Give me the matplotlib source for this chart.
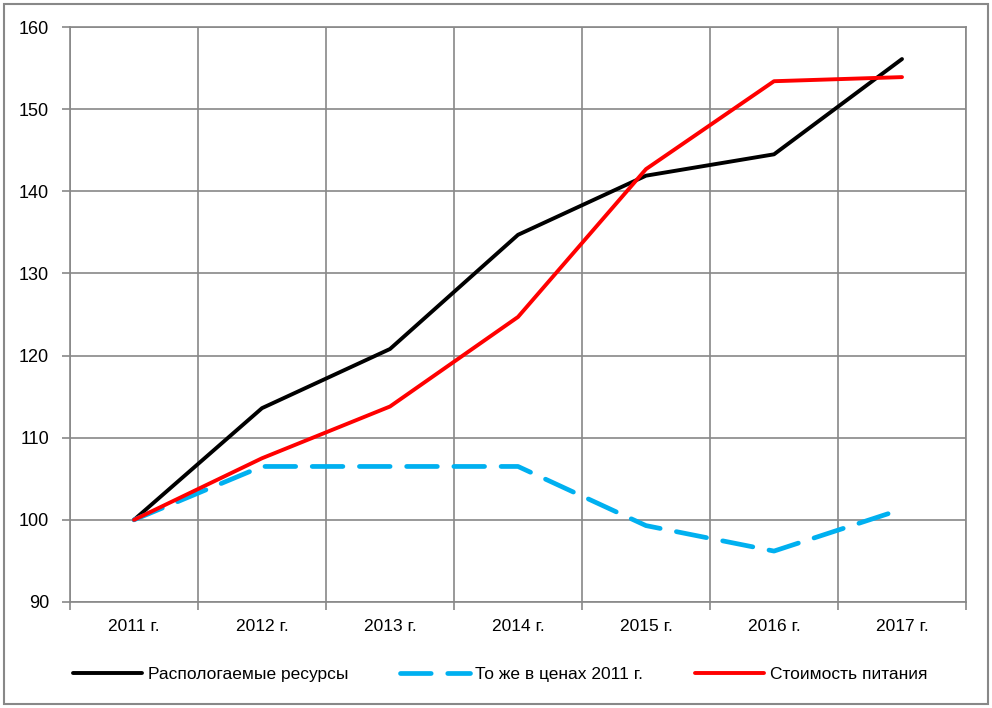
import matplotlib
matplotlib.use("Agg")
import matplotlib.pyplot as plt
import numpy as np
from matplotlib.patches import Rectangle

plt.rcParams['font.family'] = ['Liberation Sans', 'DejaVu Sans']

years = ["2011 г.", "2012 г.", "2013 г.", "2014 г.", "2015 г.", "2016 г.", "2017 г."]
resources = [100, 113.6, 120.8, 134.7, 141.9, 144.5, 156.1]
resources_2011 = [100, 106.5, 106.5, 106.5, 99.3, 96.2, 101.3]
food_cost = [100, 107.5, 113.8, 124.7, 142.7, 153.4, 153.9]
labels = ["Распологаемые ресурсы", "То же в ценах 2011 г.", "Стоимость питания"]
yticks = [90, 100, 110, 120, 130, 140, 150, 160]

fig = plt.figure(figsize=(9.92, 7.08), dpi=100)
ax = fig.add_axes([70/992, 1-602/708, (966-70)/992, (602-27)/708])
x = np.arange(len(years))

ax.plot(x, resources, color='black', lw=2.8, label=labels[0], solid_capstyle='round')
ax.plot(x, resources_2011, color='#00B0F0', lw=3.4, dashes=(6.5, 3.5), label=labels[1], dash_capstyle='round')
ax.plot(x, food_cost, color='#FF0000', lw=2.8, label=labels[2], solid_capstyle='round')

ax.set_xlim(-0.5, len(years)-0.5)
ax.set_ylim(90, 160)
ax.set_yticks(yticks)
ax.set_xticks(x)
ax.set_xticklabels(years)
ax.set_xticks(np.arange(-0.5, len(years)), minor=True)
ax.tick_params(axis='x', which='major', length=0, pad=12, labelsize=12.5)
ax.tick_params(axis='x', which='minor', length=6, color='#888888', width=1.2)
ax.tick_params(axis='y', length=6, color='#888888', width=1.2, labelsize=13, pad=9)
ax.grid(True, axis='y', which='major', color='#888888', lw=1.2)
ax.grid(True, axis='x', which='minor', color='#888888', lw=1.2)
ax.grid(False, axis='x', which='major')
for s in ax.spines.values():
    s.set_color('#888888')
    s.set_linewidth(1.2)
ax.set_axisbelow(True)

ax.legend(loc='center', bbox_to_anchor=(500/992, 1-674/708), bbox_transform=fig.transFigure,
          ncol=3, frameon=False, fontsize=12.5, handlelength=4, columnspacing=3, handletextpad=0.3)

fig.patches.append(Rectangle((4/992, 4/708), 1-8/992, 1-8/708, transform=fig.transFigure,
                             fill=False, edgecolor='#888888', lw=1.5))
fig.savefig('out.png', dpi=100)
